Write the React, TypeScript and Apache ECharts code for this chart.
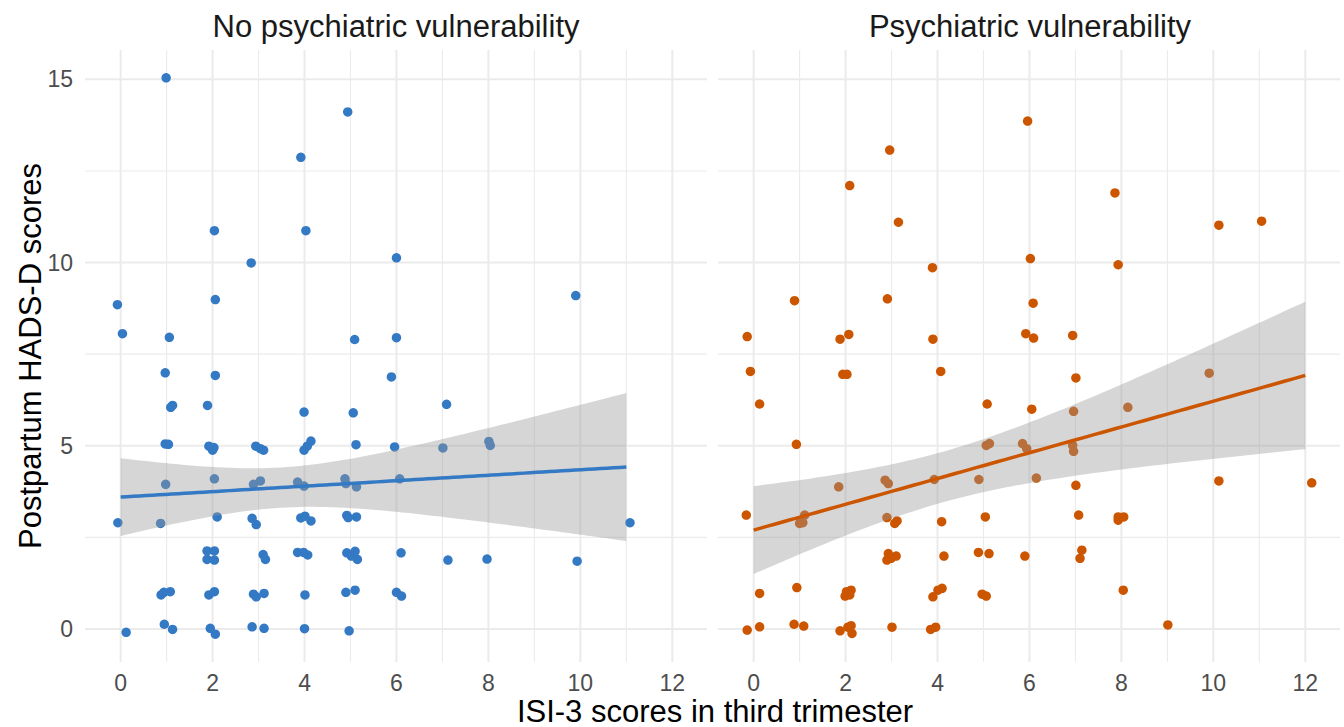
import { useEffect, useRef } from 'react';
import * as echarts from 'echarts';

// ---------- text ----------
const panelTitles = ['No psychiatric vulnerability', 'Psychiatric vulnerability'];
const xTitle = 'ISI-3 scores in third trimester';
const yTitle = 'Postpartum HADS-D scores';

// ---------- ticks / grid breaks ----------
const xTicks = [0, 2, 4, 6, 8, 10, 12];
const xMinor = [1, 3, 5, 7, 9, 11];
const yTicks = [0, 5, 10, 15];
const yMinor = [2.5, 7.5, 12.5];

// ---------- data (jittered positions) ----------
const noVulnX = [
  0.99, 4.94, 3.92, 2.04, 4.03, 2.84, 6.0, -0.07, 2.06, 0.04,
  1.06, 5.09, 6.0, 9.9, 0.97, 2.06, 5.89, 1.09, 1.13, 1.89,
  3.99, 5.06, 0.97, 1.04, 1.92, 2.0, 2.03, 2.94, 3.04, 3.11,
  3.99, 4.06, 4.14, 5.12, 5.96, 0.98, 2.04, 2.89, 3.04, 3.85,
  3.99, 4.88, 4.9, 5.13, 6.07, -0.06, 0.87, 2.1, 2.86, 2.95,
  3.92, 4.01, 4.14, 4.92, 5.13, 4.95, 1.88, 2.04, 1.88, 2.04,
  3.1, 3.15, 3.85, 3.98, 4.07, 4.92, 5.1, 5.15, 5.02, 6.1,
  0.88, 0.94, 1.08, 1.92, 2.04, 2.89, 2.95, 3.12, 4.01, 4.9,
  5.1, 6.0, 6.11, 0.12, 0.95, 1.13, 1.95, 2.06, 2.86, 3.12,
  4.0, 4.97, 7.09, 7.01, 8.01, 8.04, 11.08, 7.12, 7.97, 9.93,
];
const noVulnY = [
  15.04, 14.11, 12.87, 10.87, 10.87, 9.99, 10.13, 8.85, 8.99, 8.06,
  7.96, 7.9, 7.95, 9.1, 6.99, 6.92, 6.88, 6.05, 6.1, 6.1,
  5.92, 5.9, 5.05, 5.04, 4.99, 4.88, 4.95, 4.99, 4.92, 4.88,
  4.88, 4.99, 5.13, 5.03, 4.97, 3.95, 4.1, 3.95, 4.04, 4.01,
  3.9, 4.1, 3.97, 3.88, 4.1, 2.9, 2.88, 3.06, 3.02, 2.85,
  3.03, 3.08, 2.95, 3.1, 3.06, 3.04, 2.13, 2.13, 1.9, 1.88,
  2.03, 1.9, 2.09, 2.09, 2.02, 2.08, 2.12, 1.9, 1.99, 2.08,
  0.93, 1.0, 1.02, 0.93, 1.02, 0.95, 0.88, 0.97, 0.93, 1.0,
  1.06, 1.0, 0.9, -0.09, 0.13, -0.01, 0.02, -0.14, 0.06, 0.02,
  0.01, -0.05, 6.13, 4.94, 5.12, 5.01, 2.9, 1.88, 1.91, 1.85,
];

const vulnX = [
  2.96, 2.09, 3.15, 3.89, 0.89, 2.91, -0.14, 1.88, 2.07, 3.9,
  5.96, 7.86, 10.12, 11.05, 6.02, 7.93, 6.08, 5.92, 6.09, 6.94,
  -0.07, 1.94, 2.03, 4.07, 0.13, 5.08, 0.93, 5.06, 5.13, 5.85,
  5.94, 1.85, 2.86, 2.93, 3.93, 4.9, -0.16, 1.04, 1.11, 1.0,
  1.07, 2.9, 3.07, 3.12, 4.09, 5.04, 2.93, 3.1, 2.9, 2.99,
  4.14, 4.89, 5.12, 5.9, 0.13, 0.94, 2.02, 2.12, 1.99, 2.09,
  3.9, 4.01, 4.1, 4.97, 5.06, -0.14, 0.13, 0.88, 1.09, 1.88,
  2.05, 2.12, 2.14, 3.01, 3.85, 3.96, 7.01, 9.91, 6.05, 6.96,
  8.14, 6.96, 6.94, 6.15, 7.01, 10.12, 12.14, 7.07, 7.93, 8.05,
  7.93, 7.14, 7.1, 8.04, 9.01,
];
const vulnY = [
  13.07, 12.1, 11.1, 9.86, 8.96, 9.01, 7.98, 7.91, 8.04, 7.91,
  13.86, 11.9, 11.02, 11.13, 10.11, 9.94, 8.89, 8.06, 7.94, 8.01,
  7.03, 6.95, 6.95, 7.03, 6.14, 6.14, 5.04, 5.01, 5.06, 5.06,
  4.92, 3.88, 4.06, 3.97, 4.08, 4.08, 3.11, 2.97, 3.11, 2.88,
  2.9, 3.04, 2.88, 2.95, 2.93, 3.06, 2.06, 1.99, 1.88, 1.93,
  1.99, 2.09, 2.06, 1.99, 0.97, 1.13, 1.02, 1.06, 0.9, 0.93,
  0.88, 1.06, 1.11, 0.95, 0.9, -0.03, 0.06, 0.13, 0.08, -0.05,
  0.05, 0.09, -0.12, 0.05, -0.01, 0.05, 6.85, 6.98, 6.0, 5.94,
  6.05, 4.85, 5.01, 4.12, 3.92, 4.04, 3.99, 3.11, 3.06, 3.06,
  2.97, 2.15, 1.93, 1.06, 0.11,
];

// ---------- fitted linear trend + 95% band ----------
// x range of the fit, fitted y at both ends, band half-width at [start, narrowest, end], x of narrowest point
const noVulnFitX = [0, 11];
const noVulnFitY = [3.6, 4.42];
const noVulnBandHalf = [1.06, 0.55, 2.02];
const noVulnBandCentre = [3.5];
const vulnFitX = [0, 12];
const vulnFitY = [2.7, 6.92];
const vulnBandHalf = [1.2, 0.69, 2.01];
const vulnBandCentre = [4.1];

const panelColors = ['#3479C4', '#CC5500'];

function buildBand(fx: number[], fy: number[], half: number[], centre: number[]) {
  const [x0, x1] = fx;
  const xm = centre[0];
  const h2 = half[1] * half[1];
  const bA = (half[0] * half[0] - h2) / ((xm - x0) * (xm - x0));
  const bB = (half[2] * half[2] - h2) / ((x1 - xm) * (x1 - xm));
  const B = (bA + bB) / 2;
  const slope = (fy[1] - fy[0]) / (x1 - x0);
  const pts: number[][] = [];
  const N = 80;
  for (let i = 0; i < N; i++) {
    const x = x0 + ((x1 - x0) * i) / (N - 1);
    const yh = fy[0] + slope * (x - x0);
    const hw = Math.sqrt(h2 + B * (x - xm) * (x - xm));
    pts.push([x, yh, yh - hw, yh + hw]);
  }
  return pts;
}

const FONT = '"Liberation Sans", Arial, sans-serif';
const X_MIN = -0.775;
const X_MAX = 12.755;
const Y_MIN = -0.9;
const Y_MAX = 15.8;

export default function App() {
  const ref = useRef<HTMLDivElement>(null);

  useEffect(() => {
    document.body.style.margin = '0';
    if (!ref.current) return;
    const chart = echarts.init(ref.current, undefined, { renderer: 'svg' });

    const panels = [
      { xs: noVulnX, ys: noVulnY, band: buildBand(noVulnFitX, noVulnFitY, noVulnBandHalf, noVulnBandCentre) },
      { xs: vulnX, ys: vulnY, band: buildBand(vulnFitX, vulnFitY, vulnBandHalf, vulnBandCentre) },
    ];

    const gridRects = [
      { left: 85, top: 50, width: 622, height: 612 },
      { left: 718, top: 50, width: 622, height: 612 },
    ];

    const xAxes: any[] = [];
    const yAxes: any[] = [];
    const series: any[] = [];

    panels.forEach((p, k) => {
      xAxes.push({
        gridIndex: k,
        type: 'value',
        min: X_MIN,
        max: X_MAX,
        minInterval: 2,
        maxInterval: 2,
        axisLine: { show: false },
        axisTick: { show: false },
        splitLine: { show: false },
        axisLabel: {
          color: '#4d4d4d',
          fontSize: 23,
          lineHeight: 20,
          fontFamily: FONT,
          margin: 11,
          formatter: (v: number) => (xTicks.some((t) => Math.abs(t - v) < 1e-6) ? String(Math.round(v)) : ''),
        },
      });
      yAxes.push({
        gridIndex: k,
        type: 'value',
        min: Y_MIN,
        max: Y_MAX,
        minInterval: 5,
        maxInterval: 5,
        axisLine: { show: false },
        axisTick: { show: false },
        splitLine: { show: false },
        axisLabel: {
          show: k === 0,
          color: '#4d4d4d',
          fontSize: 23,
          fontFamily: FONT,
          margin: 12,
          formatter: (v: number) => (yTicks.some((t) => Math.abs(t - v) < 1e-6) ? String(Math.round(v)) : ''),
        },
      });

      // grid lines
      const gridData: number[][] = [];
      xTicks.forEach((v) => gridData.push([0, v, 1]));
      xMinor.forEach((v) => gridData.push([0, v, 0]));
      yTicks.forEach((v) => gridData.push([1, v, 1]));
      yMinor.forEach((v) => gridData.push([1, v, 0]));
      series.push({
        type: 'custom',
        xAxisIndex: k,
        yAxisIndex: k,
        z: 0,
        silent: true,
        clip: false,
        data: gridData,
        renderItem: (params: any, api: any) => {
          const cs = params.coordSys;
          const orient = api.value(0);
          const v = api.value(1);
          const major = api.value(2) === 1;
          const style = { stroke: '#ebebeb', lineWidth: major ? 2 : 1.1 };
          if (orient === 0) {
            const px = api.coord([v, 0])[0];
            return { type: 'line', shape: { x1: px, y1: cs.y, x2: px, y2: cs.y + cs.height }, style };
          }
          const py = api.coord([0, v])[1];
          return { type: 'line', shape: { x1: cs.x, y1: py, x2: cs.x + cs.width, y2: py }, style };
        },
      });

      // points
      series.push({
        type: 'scatter',
        xAxisIndex: k,
        yAxisIndex: k,
        z: 2,
        symbolSize: 9.5,
        itemStyle: { color: panelColors[k], opacity: 1 },
        data: p.xs.map((x, i) => [x, p.ys[i]]),
      });

      const band = p.band;

      // confidence band
      series.push({
        type: 'custom',
        xAxisIndex: k,
        yAxisIndex: k,
        z: 3,
        silent: true,
        data: [[band[0][0], band[0][1]]],
        renderItem: (_params: any, api: any) => {
          const upper = band.map((q) => api.coord([q[0], q[3]]));
          const lower = band.map((q) => api.coord([q[0], q[2]])).reverse();
          return {
            type: 'polygon',
            shape: { points: upper.concat(lower) },
            style: { fill: 'rgba(153,153,153,0.4)' },
          };
        },
      });

      // fitted line
      series.push({
        type: 'line',
        xAxisIndex: k,
        yAxisIndex: k,
        z: 4,
        showSymbol: false,
        silent: true,
        lineStyle: { color: panelColors[k], width: 3.5 },
        data: band.map((q) => [q[0], q[1]]),
      });
    });

    chart.setOption({
      animation: false,
      backgroundColor: '#ffffff',
      grid: gridRects.map((g) => ({ ...g, containLabel: false })),
      xAxis: xAxes,
      yAxis: yAxes,
      series,
      graphic: [
        {
          type: 'text',
          x: 396,
          y: 26,
          style: { text: panelTitles[0], fontSize: 31, fontFamily: FONT, fill: '#1a1a1a', textAlign: 'center', textVerticalAlign: 'middle' },
        },
        {
          type: 'text',
          x: 1030,
          y: 26,
          style: { text: panelTitles[1], fontSize: 31, fontFamily: FONT, fill: '#1a1a1a', textAlign: 'center', textVerticalAlign: 'middle' },
        },
        {
          type: 'text',
          x: 715,
          y: 711,
          style: { text: xTitle, fontSize: 31, lineHeight: 26, fontFamily: FONT, fill: '#000000', textAlign: 'center', textVerticalAlign: 'middle' },
        },
        {
          type: 'text',
          x: 30,
          y: 356,
          rotation: Math.PI / 2,
          style: { text: yTitle, fontSize: 31, fontFamily: FONT, fill: '#000000', textAlign: 'center', textVerticalAlign: 'middle' },
        },
      ],
    });

    return () => chart.dispose();
  }, []);

  return <div ref={ref} style={{ width: 1344, height: 727 }} />;
}
